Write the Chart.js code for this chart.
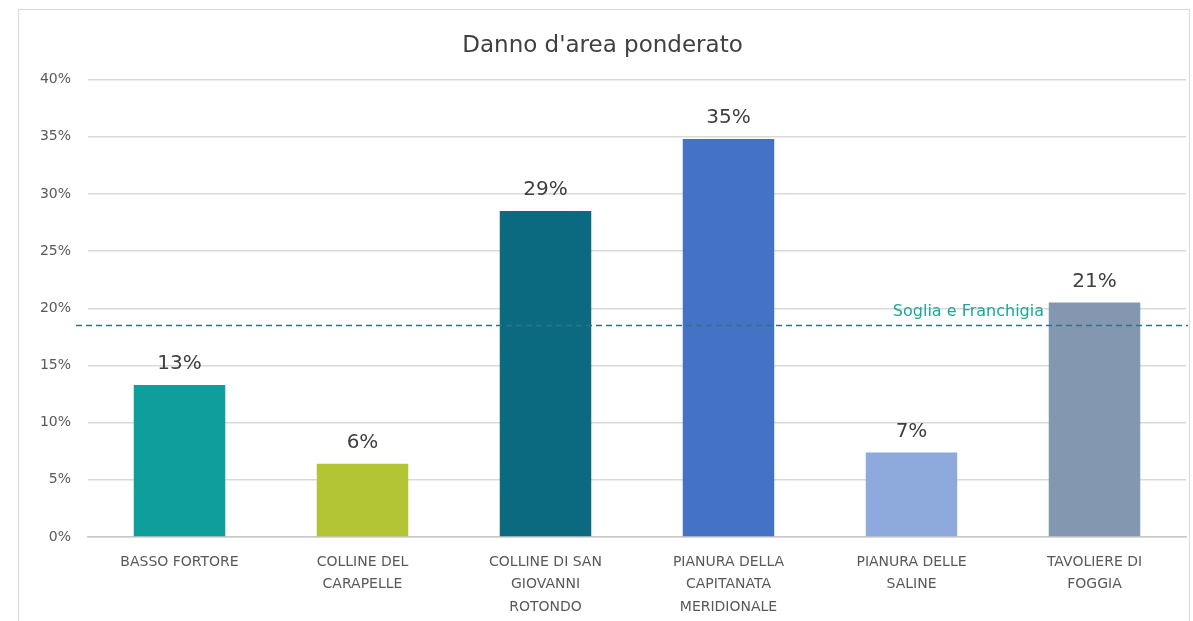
<!DOCTYPE html>
<html lang="it">
<head>
<meta charset="utf-8">
<title>Danno d'area ponderato</title>
<script src="https://cdn.jsdelivr.net/npm/chart.js@4.4.1/dist/chart.umd.min.js"></script>
<style>
    html, body { margin: 0; padding: 0; background: #fff; overflow: hidden; }
    #frame {
        position: absolute;
        left: 18px;
        top: 9px;
        width: 1172px;
        height: 620px;
        border: 1px solid #d9d9d9;
        box-sizing: border-box;
    }
    #chart { display: block; }
</style>
</head>
<body>
<div id="frame">
    <canvas id="chart" width="1170" height="618"></canvas>
</div>
<script>
// Chart data
const categories = [
    'BASSO FORTORE',
    ['COLLINE DEL', 'CARAPELLE'],
    ['COLLINE DI SAN', 'GIOVANNI', 'ROTONDO'],
    ['PIANURA DELLA', 'CAPITANATA', 'MERIDIONALE'],
    ['PIANURA DELLE', 'SALINE'],
    ['TAVOLIERE DI', 'FOGGIA']
];
const damageValues = [13.3, 6.4, 28.5, 34.8, 7.4, 20.5];
const barColors = ['#0f9e9c', '#b3c435', '#0c6a80', '#4472c4', '#8ea9db', '#8497b0'];
const yTicks = [0, 5, 10, 15, 20, 25, 30, 35, 40];
const thresholdValue = 18.5;
const thresholdLabel = 'Soglia e Franchigia';

const FONT = '"DejaVu Sans", sans-serif';

// Draws "NN%" above each bar
const barLabels = {
    id: 'barLabels',
    afterDatasetsDraw(chart) {
        const ctx = chart.ctx;
        const meta = chart.getDatasetMeta(0);
        ctx.save();
        ctx.font = '20px ' + FONT;
        ctx.fillStyle = '#404040';
        ctx.textAlign = 'center';
        ctx.textBaseline = 'bottom';
        meta.data.forEach((bar, i) => {
            ctx.fillText(Math.round(damageValues[i]) + '%', bar.x, bar.y - 11);
        });
        ctx.restore();
    }
};

// Dashed threshold line with its label
const thresholdLine = {
    id: 'thresholdLine',
    afterDatasetsDraw(chart) {
        const ctx = chart.ctx;
        const area = chart.chartArea;
        const y = chart.scales.y.getPixelForValue(thresholdValue);
        ctx.save();
        ctx.strokeStyle = '#2b7385';
        ctx.lineWidth = 1.5;
        ctx.setLineDash([6, 4]);
        ctx.beginPath();
        ctx.moveTo(area.left - 12, y);
        ctx.lineTo(area.right + 2, y);
        ctx.stroke();
        ctx.setLineDash([]);
        ctx.font = '16px ' + FONT;
        ctx.fillStyle = '#1aa899';
        ctx.textAlign = 'right';
        ctx.textBaseline = 'bottom';
        ctx.fillText(thresholdLabel, area.right - 142, y - 6);
        ctx.restore();
    }
};

new Chart(document.getElementById('chart'), {
    type: 'bar',
    data: {
        labels: categories,
        datasets: [{
            data: damageValues,
            backgroundColor: barColors,
            borderWidth: 0,
            categoryPercentage: 1,
            barPercentage: 0.5
        }]
    },
    options: {
        responsive: false,
        animation: false,
        layout: { padding: { left: 0, right: 3, top: 0, bottom: 0 } },
        plugins: {
            legend: { display: false },
            tooltip: { enabled: false },
            title: {
                display: true,
                text: "Danno d'area ponderato",
                color: '#404040',
                font: { family: FONT, size: 23, weight: 'normal' },
                padding: { top: 22, bottom: 20 }
            }
        },
        scales: {
            x: {
                grid: { display: false, drawTicks: false },
                border: { color: '#c8c8c8', width: 1.5 },
                ticks: {
                    color: '#595959',
                    font: { family: FONT, size: 14, lineHeight: 1.6 },
                    padding: 14,
                    maxRotation: 0,
                    autoSkip: false
                },
                afterFit(scale) { scale.height = 91; }
            },
            y: {
                min: 0,
                max: 40,
                afterBuildTicks(scale) {
                    scale.ticks = yTicks.map(v => ({ value: v }));
                },
                grid: { color: '#d9d9d9', lineWidth: 1.5, drawTicks: false },
                border: { display: false },
                ticks: {
                    color: '#595959',
                    font: { family: FONT, size: 14 },
                    padding: 17,
                    callback: v => v + '%'
                },
                afterFit(scale) { scale.width = 69; }
            }
        }
    },
    plugins: [barLabels, thresholdLine]
});
</script>
</body>
</html>
